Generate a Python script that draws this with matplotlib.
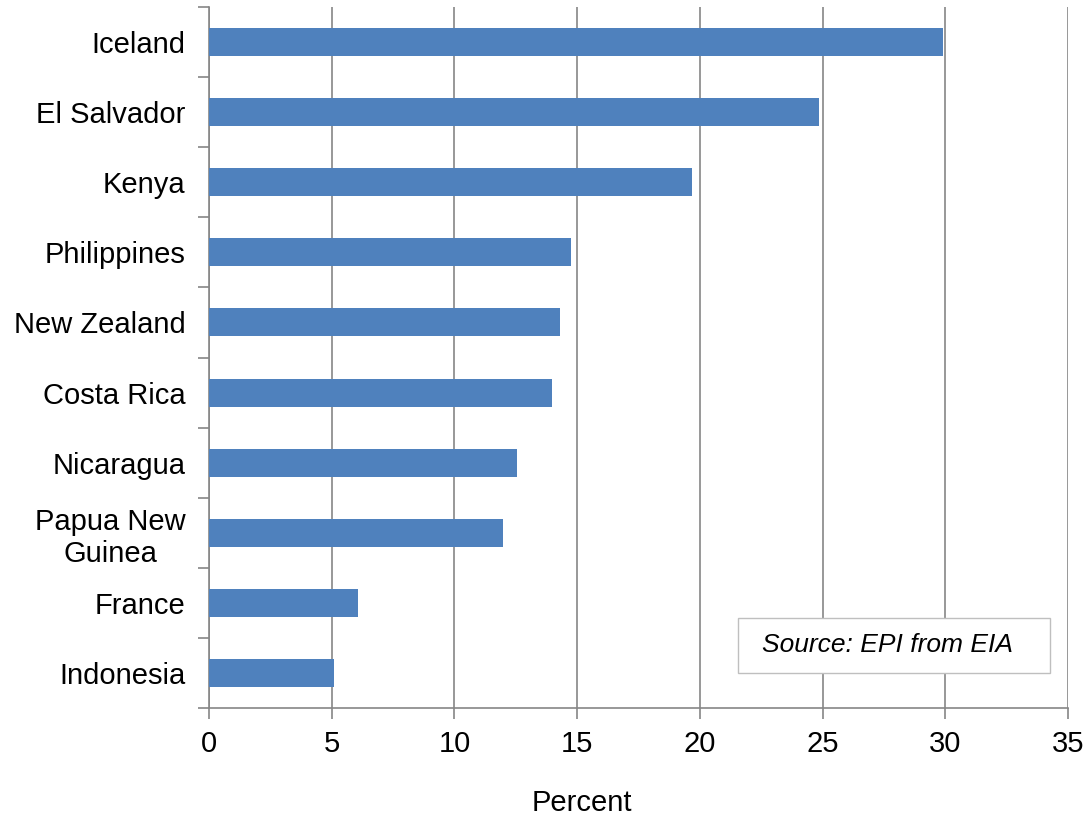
import matplotlib.pyplot as plt
from matplotlib.patches import Rectangle
import numpy as np

plt.rcParams['font.family'] = ['Liberation Sans', 'DejaVu Sans']

countries = ["Iceland", "El Salvador", "Kenya", "Philippines", "New Zealand",
             "Costa Rica", "Nicaragua", "Papua New\nGuinea", "France", "Indonesia"]
percent = [29.9, 24.85, 19.7, 14.75, 14.3, 13.98, 12.55, 11.98, 6.07, 5.1]

fig = plt.figure(figsize=(10.87, 8.21), dpi=100)
ax = fig.add_axes([209 / 1087, 1 - 708 / 821, (1068 - 209) / 1087, 701 / 821])

pos = np.arange(len(countries))[::-1]
ax.barh(pos, percent, height=0.4, color='#4F81BD', zorder=3)

ax.set_xlim(0, 35)
ax.set_ylim(-0.5, len(countries) - 0.5)
ax.set_xticks(range(0, 36, 5))
ax.set_yticks(pos)
ax.set_yticklabels(countries, fontsize=21, linespacing=1.18, multialignment='center')
ax.set_yticks(np.arange(-0.5, len(countries), 1), minor=True)
ax.tick_params(axis='y', which='major', length=0, pad=17)
ax.tick_params(axis='y', which='minor', length=8, width=1.2, color='#868686')
ax.tick_params(axis='x', length=8, width=1.2, color='#868686', labelsize=21, pad=8)

ax.grid(axis='x', color='#868686', linewidth=1.2, zorder=0)
for s in ['top', 'right']:
    ax.spines[s].set_visible(False)
for s in ['left', 'bottom']:
    ax.spines[s].set_color('#868686')
    ax.spines[s].set_linewidth(1.2)

ax.set_xlabel("Percent", fontsize=21)
ax.xaxis.set_label_coords((582 - 209) / (1068 - 209), -(803 - 708) / 701, transform=ax.transAxes)
ax.xaxis.label.set_va('center')

ax.add_patch(Rectangle((21.55, 0.0), 12.72, 0.786, facecolor='white',
                       edgecolor='#BFBFBF', linewidth=1, zorder=5))
ax.text(27.63, 0.4, "Source: EPI from EIA", fontsize=19, style='italic',
        ha='center', va='center', zorder=6)

fig.savefig("out.png", dpi=100)
